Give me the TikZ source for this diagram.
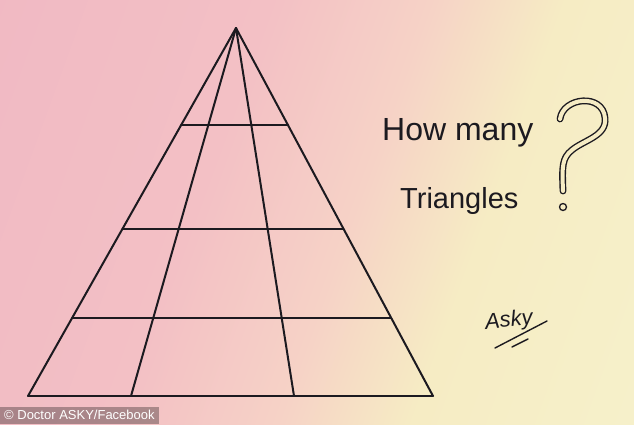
\documentclass[tikz,border=0pt]{standalone}
\usepackage{fontspec}
\setmainfont{Liberation Sans}
\usetikzlibrary{calc,positioning}

\definecolor{inkblack}{RGB}{28,26,32}
\definecolor{pinkbg}{RGB}{239,180,194}
\definecolor{pinkmid}{RGB}{243,192,197}
\definecolor{peachbg}{RGB}{246,210,198}
\definecolor{yellowbg}{RGB}{246,236,196}
\definecolor{creambg}{RGB}{247,245,208}
\pgfdeclarehorizontalshading{paper}{100bp}{color(0bp)=(pinkbg); color(40bp)=(pinkmid); color(53bp)=(peachbg); color(64bp)=(yellowbg); color(100bp)=(creambg)}

\begin{document}
\begin{tikzpicture}
  [
  x=1pt, y=-1pt, draw=inkblack,
  pen/.style={draw=inkblack, line width=2pt, line cap=round},
  qmark/.style={draw=inkblack, line width=1.4pt, double=yellowbg, double distance=4pt, line cap=round},
  scrawl/.style={font=\fontsize{32}{32}\selectfont, text=inkblack, inner sep=0pt, anchor=base west},
  sig/.style={font=\itshape\fontsize{22}{22}\selectfont, text=inkblack, inner sep=0pt, rotate=6},
  credit/.style={font=\fontsize{13}{13}\selectfont, text=white, anchor=south west, fill=black, fill opacity=0.3, text opacity=1, inner xsep=4pt, inner ysep=0pt, minimum height=17pt}
  ]
\useasboundingbox (0,0) rectangle (634,424);
\shade[shading=paper, shading angle=-20] (0,0) rectangle (634,424);

% pyramid
\coordinate (apex) at (236,28);
\coordinate (b0) at (28,396);
\coordinate (b1) at (131,396);
\coordinate (b2) at (294,396);
\coordinate (b3) at (433,396);

\foreach \b in {0,1,2,3} {
  \draw[pen] (apex) -- (b\b);
}
\draw[pen] (b0) -- (b3);

\foreach \t/\n in {0.264/1,0.546/2,0.788/3} {
  \draw[pen] ($(apex)!\t!(b0)$) coordinate (l\n) -- ($(apex)!\t!(b3)$) coordinate (r\n);
}

% question
\node[scrawl] (how) at (382,140) {How many};
\node[scrawl, font=\fontsize{29}{29}\selectfont] (tri) at (400,208) {Triangles};

\draw[qmark] (560,119) .. controls (563,97) and (603,93) .. (605,118)
  .. controls (607,136) and (584,140) .. (572,150)
  .. controls (562,158) and (562,166) .. (563,191);
\draw[draw=inkblack, line width=1.3pt, fill=yellowbg] (563,207) circle[radius=3.5pt];

% signature
\node[sig] (asky) at (509,321) {Asky};
\draw[pen, line width=1.4pt] (495,348) -- (547,321);
\draw[pen, line width=1.4pt] (512,347) -- (528,339);

\node[credit] (src) at (0,424) {© Doctor ASKY/Facebook};

\end{tikzpicture}
\end{document}
